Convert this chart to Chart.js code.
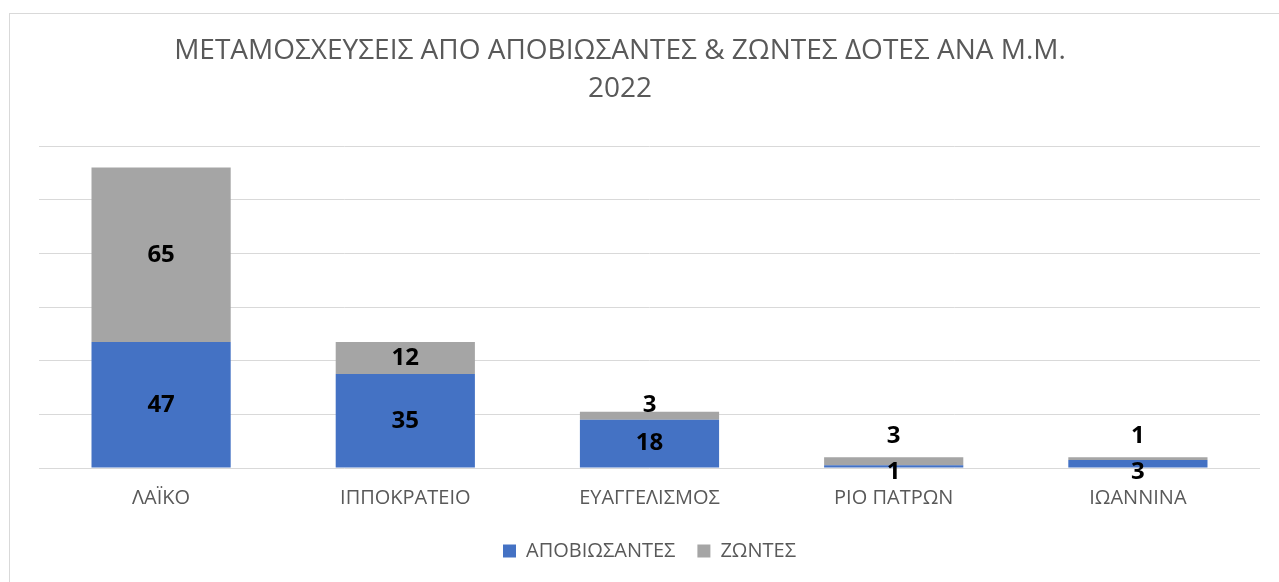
<!DOCTYPE html>
<html><head><meta charset="utf-8">
<script src="https://cdn.jsdelivr.net/npm/chart.js@4"></script>
<style>html,body{margin:0;padding:0;background:#fff;overflow:hidden}</style>
</head><body>
<canvas id="c" width="1279" height="582"></canvas>
<script>
const categories = ['ΛΑΪΚΟ', 'ΙΠΠΟΚΡΑΤΕΙΟ', 'ΕΥΑΓΓΕΛΙΣΜΟΣ', 'ΡΙΟ ΠΑΤΡΩΝ', 'ΙΩΑΝΝΙΝΑ'];
const deceased = [47, 35, 18, 1, 3];
const living = [65, 12, 3, 3, 1];
const seriesNames = ['ΑΠΟΒΙΩΣΑΝΤΕΣ', 'ΖΩΝΤΕΣ'];
const titleLines = ['ΜΕΤΑΜΟΣΧΕΥΣΕΙΣ ΑΠΟ ΑΠΟΒΙΩΣΑΝΤΕΣ & ΖΩΝΤΕΣ ΔΟΤΕΣ ΑΝΑ Μ.Μ.', '2022'];
const yTicks = [0, 20, 40, 60, 80, 100, 120];

const FONT = '"Open Sans", "Noto Sans", sans-serif';

const framePlugin = {
  id: 'frame',
  beforeDraw(chart) {
    const ctx = chart.ctx;
    ctx.save();
    ctx.fillStyle = '#fff';
    ctx.fillRect(0, 0, chart.width, chart.height);
    ctx.strokeStyle = '#d9d9d9';
    ctx.lineWidth = 1;
    ctx.strokeRect(9.5, 13.5, 1400, 700);
    ctx.restore();
  }
};

// Chart title, drawn as canvas text (the original is centred slightly left of the plot)
const titlePlugin = {
  id: 'chartTitle',
  afterDraw(chart) {
    const ctx = chart.ctx;
    ctx.save();
    ctx.font = '28px ' + FONT;
    ctx.fillStyle = '#595959';
    ctx.textAlign = 'center';
    ctx.textBaseline = 'alphabetic';
    const cx = 620;
    titleLines.forEach((t, i) => ctx.fillText(t, cx, 58.5 + i * 38.5));
    ctx.restore();
  }
};

const labelPlugin = {
  id: 'barLabels',
  afterDatasetsDraw(chart) {
    const ctx = chart.ctx;
    ctx.save();
    ctx.font = 'bold 24px ' + FONT;
    ctx.fillStyle = '#000';
    ctx.textAlign = 'center';
    ctx.textBaseline = 'middle';
    const m0 = chart.getDatasetMeta(0), m1 = chart.getDatasetMeta(1);
    const base = chart.scales.y.getPixelForValue(0);
    m0.data.forEach((b0, i) => {
      const b1 = m1.data[i];
      const h0 = b0.base - b0.y, h1 = b1.base - b1.y;
      const small0 = h0 < 20, small1 = h1 < 20;
      const y0 = small0 ? base + 4 : (b0.y + b0.base) / 2;
      const y1 = !small1 ? (b1.y + b1.base) / 2 : (small0 ? b1.y - 21 : b1.y - 6);
      ctx.fillText(String(chart.data.datasets[0].data[i]), b0.x, y0);
      ctx.fillText(String(chart.data.datasets[1].data[i]), b1.x, y1);
    });
    ctx.restore();
  }
};

new Chart(document.getElementById('c'), {
  type: 'bar',
  data: {
    labels: categories,
    datasets: [
      { label: seriesNames[0], data: deceased, backgroundColor: '#4472C4', borderWidth: 0 },
      { label: seriesNames[1], data: living, backgroundColor: '#A5A5A5', borderWidth: 0 }
    ]
  },
  options: {
    responsive: false,
    animation: false,
    devicePixelRatio: 1,
    layout: { padding: { top: 146, left: 39, right: 19, bottom: 11 } },
    datasets: { bar: { categoryPercentage: 0.57, barPercentage: 1 } },
    plugins: {
      tooltip: { enabled: false },
      title: { display: false },
      legend: {
        position: 'bottom',
        labels: {
          color: '#595959',
          font: { family: FONT, size: 20 },
          boxWidth: 13,
          boxHeight: 13,
          padding: 22
        }
      }
    },
    scales: {
      x: {
        stacked: true,
        grid: { display: false, drawTicks: false },
        border: { display: false },
        ticks: { color: '#595959', font: { family: FONT, size: 20 }, padding: 18 },
        afterFit(scale) { scale.height -= 9; }
      },
      y: {
        stacked: true,
        min: 0,
        max: 120,
        afterBuildTicks(scale) { scale.ticks = yTicks.map(v => ({ value: v })); },
        grid: { color: '#d9d9d9', drawTicks: false, lineWidth: 1 },
        border: { display: false },
        ticks: { display: false }
      }
    }
  },
  plugins: [framePlugin, titlePlugin, labelPlugin]
});
</script>
</body></html>
